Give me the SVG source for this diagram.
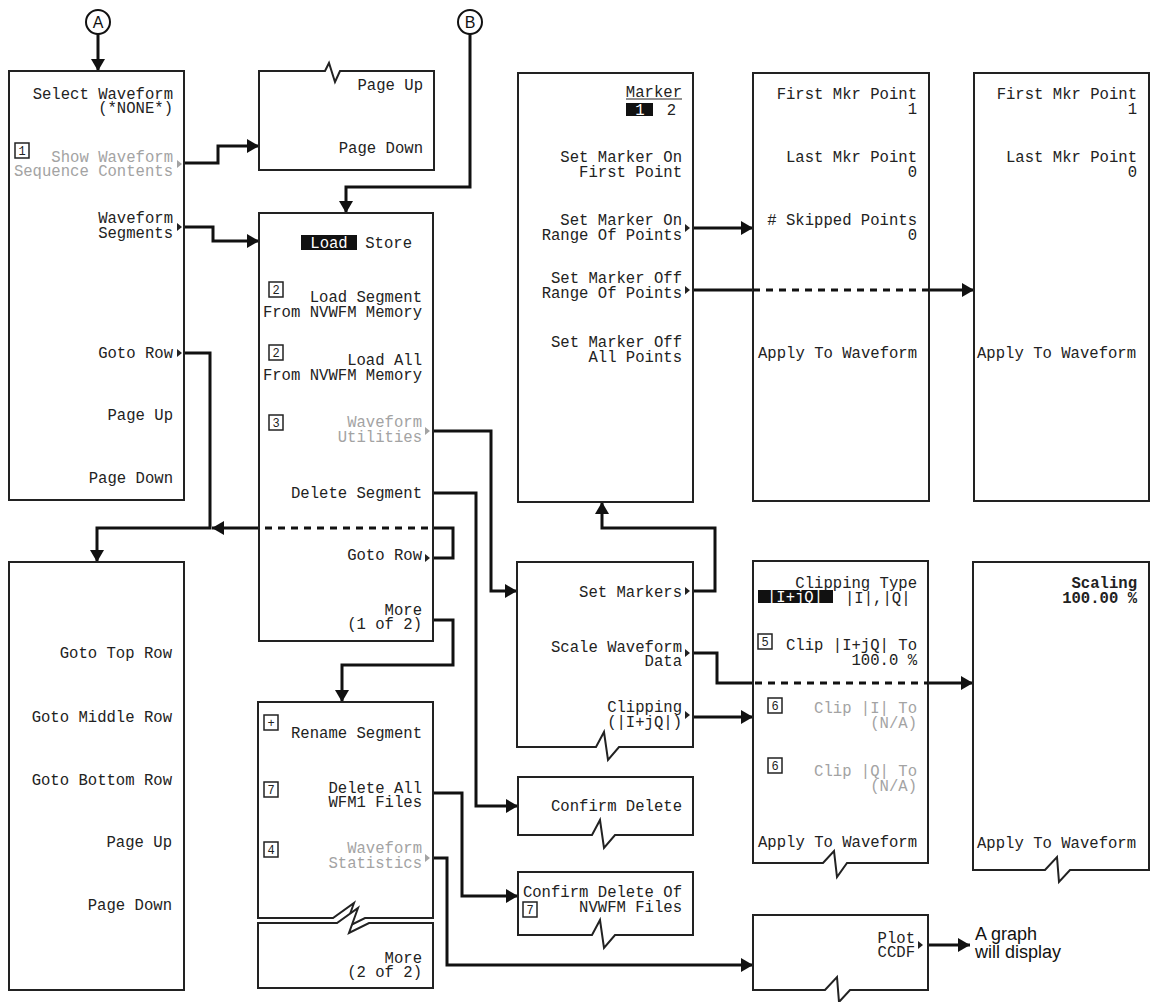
<svg xmlns="http://www.w3.org/2000/svg" width="1151" height="1002" viewBox="0 0 1151 1002">
<style>
.box{fill:#fff;stroke:#222;stroke-width:2}
.c{fill:none;stroke:#111;stroke-width:3}
.d{fill:none;stroke:#111;stroke-width:3;stroke-dasharray:7 6}
.t{font-family:"Liberation Mono","DejaVu Sans Mono",monospace;font-size:15.6px;fill:#222}
.r{text-anchor:end}
.m{text-anchor:middle}
.g{fill:#a3a3a3}
.w{fill:#fff}
.b{font-weight:bold}
.nb{fill:none;stroke:#222;stroke-width:1.5}
.nt{font-family:"Liberation Mono","DejaVu Sans Mono",monospace;font-size:12px;fill:#222;text-anchor:middle}
.tri{fill:#222}
.trig{fill:#a3a3a3}
.hl{fill:#111}
.circ{fill:#fff;stroke:#111;stroke-width:2}
.cl{font-family:"Liberation Sans",Arial,sans-serif;font-size:16px;fill:#111;text-anchor:middle}
.note{font-family:"Liberation Sans",Arial,sans-serif;font-size:18px;fill:#111}
</style>
<defs>
<marker id="ah" markerWidth="14" markerHeight="14" refX="12" refY="7" orient="auto" markerUnits="userSpaceOnUse"><path d="M0,0 L12,7 L0,14 z" fill="#111"/></marker>
</defs>

<g id="connectors">
<path class="c" d="M98,34 V71" marker-end="url(#ah)"/>
<path class="c" d="M470,34 V187 H346 V213" marker-end="url(#ah)"/>
<path class="c" d="M183,163 H218 V146 H259" marker-end="url(#ah)"/>
<path class="c" d="M183,227 H213 V241 H259" marker-end="url(#ah)"/>
<path class="c" d="M183,353 H210 V528 H97 V562" marker-end="url(#ah)"/>
<path class="c" d="M259,528 H212" marker-end="url(#ah)"/>
<path class="c" d="M431,558 H453 V528 H433"/>
<path class="c" d="M431,431 H491 V591 H517" marker-end="url(#ah)"/>
<path class="c" d="M433,493 H476 V806 H518" marker-end="url(#ah)"/>
<path class="c" d="M433,620 H453 V665 H342 V702" marker-end="url(#ah)"/>
<path class="c" d="M433,793 H462 V896 H518" marker-end="url(#ah)"/>
<path class="c" d="M431,858 H447 V965 H753" marker-end="url(#ah)"/>
<path class="c" d="M691,228 H753" marker-end="url(#ah)"/>
<path class="c" d="M691,290 H753"/>
<path class="c" d="M929,290 H974" marker-end="url(#ah)"/>
<path class="c" d="M691,591 H715 V528 H602 V502" marker-end="url(#ah)"/>
<path class="c" d="M691,653 H717 V683 H753"/>
<path class="c" d="M928,683 H973" marker-end="url(#ah)"/>
<path class="c" d="M691,717 H753" marker-end="url(#ah)"/>
<path class="c" d="M926,945 H970" marker-end="url(#ah)"/>
</g>

<g id="refA">
<circle class="circ" cx="98" cy="22" r="12"/>
<text class="cl" x="98" y="28">A</text>
</g>
<g id="refB">
<circle class="circ" cx="470" cy="22" r="12"/>
<text class="cl" x="470" y="28">B</text>
</g>

<g id="selectWaveform">
<rect class="box" x="9" y="71" width="175" height="429"/>
<text class="t r" x="173" y="99">Select Waveform</text>
<text class="t r" x="173" y="113">(*NONE*)</text>
<rect class="nb" x="15" y="143" width="14" height="15"/><text class="nt" x="22" y="155">1</text>
<text class="t r g" x="173" y="162">Show Waveform</text>
<text class="t r g" x="173" y="176">Sequence Contents</text>
<polygon class="trig" points="177,160 182,164 177,168"/>
<text class="t r" x="173" y="223">Waveform</text>
<text class="t r" x="173" y="238">Segments</text>
<polygon class="tri" points="177,223 182,227 177,231"/>
<text class="t r" x="173" y="358">Goto Row</text>
<polygon class="tri" points="177,349 182,353 177,357"/>
<text class="t r" x="173" y="420">Page Up</text>
<text class="t r" x="173" y="483">Page Down</text>
</g>

<g id="pageUpDown">
<path class="box" d="M259,71 H325 L329,63 L335,82 L340,71 H434 V170 H259 Z"/>
<text class="t r" x="423" y="90">Page Up</text>
<text class="t r" x="423" y="153">Page Down</text>
</g>

<g id="loadStore">
<rect class="box" x="259" y="213" width="174" height="428"/>
<rect class="hl" x="301" y="235" width="56" height="15"/>
<text class="t m w" x="329" y="248">Load</text>
<text class="t r" x="412" y="248">Store</text>
<rect class="nb" x="269" y="282" width="14" height="15"/><text class="nt" x="276" y="294">2</text>
<text class="t r" x="422" y="302">Load Segment</text>
<text class="t r" x="422" y="317">From NVWFM Memory</text>
<rect class="nb" x="269" y="345" width="14" height="15"/><text class="nt" x="276" y="357">2</text>
<text class="t r" x="422" y="365">Load All</text>
<text class="t r" x="422" y="380">From NVWFM Memory</text>
<rect class="nb" x="269" y="415" width="14" height="15"/><text class="nt" x="276" y="427">3</text>
<text class="t r g" x="422" y="427">Waveform</text>
<text class="t r g" x="422" y="442">Utilities</text>
<polygon class="trig" points="425,427 430,431 425,435"/>
<text class="t r" x="422" y="498">Delete Segment</text>
<path class="d" d="M265,528 H433"/>
<text class="t r" x="422" y="560">Goto Row</text>
<polygon class="tri" points="425,554 430,558 425,562"/>
<text class="t r" x="422" y="615">More</text>
<text class="t r" x="422" y="629">(1 of 2)</text>
</g>

<g id="renameSegment">
<path class="box" d="M258,702 H433 V918 H365 L345,928 L354,903 L333,918 H258 Z"/>
<rect class="nb" x="264" y="715" width="14" height="15"/><text class="nt" x="271" y="727">+</text>
<text class="t r" x="422" y="738">Rename Segment</text>
<rect class="nb" x="264" y="782" width="14" height="15"/><text class="nt" x="271" y="794">7</text>
<text class="t r" x="422" y="793">Delete All</text>
<text class="t r" x="422" y="807">WFM1 Files</text>
<rect class="nb" x="264" y="842" width="14" height="15"/><text class="nt" x="271" y="854">4</text>
<text class="t r g" x="422" y="853">Waveform</text>
<text class="t r g" x="422" y="868">Statistics</text>
<polygon class="trig" points="425,854 430,858 425,862"/>
</g>

<g id="more2of2">
<path class="box" d="M258,923 H337 L358,908 L349,933 L369,923 H433 V988 H258 Z"/>
<text class="t r" x="422" y="963">More</text>
<text class="t r" x="422" y="977">(2 of 2)</text>
</g>

<g id="gotoRow">
<rect class="box" x="9" y="562" width="175" height="428"/>
<text class="t r" x="172" y="658">Goto Top Row</text>
<text class="t r" x="172" y="722">Goto Middle Row</text>
<text class="t r" x="172" y="785">Goto Bottom Row</text>
<text class="t r" x="172" y="847">Page Up</text>
<text class="t r" x="172" y="910">Page Down</text>
</g>

<g id="marker">
<rect class="box" x="518" y="73" width="175" height="429"/>
<text class="t r" x="682" y="97">Marker</text>
<line x1="626" y1="99" x2="682" y2="99" stroke="#222" stroke-width="1"/>
<rect class="hl" x="626" y="103" width="27" height="13"/>
<text class="t m w" x="640" y="115">1</text>
<text class="t r" x="676" y="115">2</text>
<text class="t r" x="682" y="162">Set Marker On</text>
<text class="t r" x="682" y="177">First Point</text>
<text class="t r" x="682" y="225">Set Marker On</text>
<text class="t r" x="682" y="240">Range Of Points</text>
<polygon class="tri" points="685,224 690,228 685,232"/>
<text class="t r" x="682" y="283">Set Marker Off</text>
<text class="t r" x="682" y="298">Range Of Points</text>
<polygon class="tri" points="685,286 690,290 685,294"/>
<text class="t r" x="682" y="347">Set Marker Off</text>
<text class="t r" x="682" y="362">All Points</text>
</g>

<g id="mkrRange">
<rect class="box" x="753" y="73" width="176" height="428"/>
<text class="t r" x="917" y="99">First Mkr Point</text>
<text class="t r" x="917" y="114">1</text>
<text class="t r" x="917" y="162">Last Mkr Point</text>
<text class="t r" x="917" y="177">0</text>
<text class="t r" x="917" y="225"># Skipped Points</text>
<text class="t r" x="917" y="240">0</text>
<path class="d" d="M753,290 H929"/>
<text class="t" x="758" y="358">Apply To Waveform</text>
</g>

<g id="mkrOffRange">
<rect class="box" x="974" y="73" width="175" height="428"/>
<text class="t r" x="1137" y="99">First Mkr Point</text>
<text class="t r" x="1137" y="114">1</text>
<text class="t r" x="1137" y="162">Last Mkr Point</text>
<text class="t r" x="1137" y="177">0</text>
<text class="t" x="977" y="358">Apply To Waveform</text>
</g>

<g id="waveformUtilities">
<path class="box" d="M517,562 H693 V747 H619 L608,760 L604,732 L596,747 H517 Z"/>
<text class="t r" x="682" y="597">Set Markers</text>
<polygon class="tri" points="685,587 690,591 685,595"/>
<text class="t r" x="682" y="652">Scale Waveform</text>
<text class="t r" x="682" y="666">Data</text>
<polygon class="tri" points="685,649 690,653 685,657"/>
<text class="t r" x="682" y="712">Clipping</text>
<text class="t r" x="682" y="727">(|I+jQ|)</text>
<polygon class="tri" points="685,711 690,715 685,719"/>
</g>

<g id="clipping">
<path class="box" d="M753,561 H928 V863 H847 L837,877 L834,851 L823,863 H753 Z"/>
<text class="t r" x="917" y="588">Clipping Type</text>
<rect class="hl" x="758" y="590" width="75" height="13"/>
<text class="t m w" x="795" y="602">|I+jQ|</text>
<text class="t" x="845" y="603">|I|,|Q|</text>
<rect class="nb" x="758" y="634" width="14" height="15"/><text class="nt" x="765" y="646">5</text>
<text class="t r" x="917" y="650">Clip |I+jQ| To</text>
<text class="t r" x="917" y="665">100.0 %</text>
<path class="d" d="M755,683 H928"/>
<rect class="nb" x="768" y="698" width="14" height="15"/><text class="nt" x="775" y="710">6</text>
<text class="t r g" x="917" y="713">Clip |I| To</text>
<text class="t r g" x="917" y="728">(N/A)</text>
<rect class="nb" x="768" y="758" width="14" height="15"/><text class="nt" x="775" y="770">6</text>
<text class="t r g" x="917" y="776">Clip |Q| To</text>
<text class="t r g" x="917" y="791">(N/A)</text>
<text class="t" x="758" y="847">Apply To Waveform</text>
</g>

<g id="scaling">
<path class="box" d="M973,562 H1149 V870 H1070 L1059,882 L1057,857 L1045,870 H973 Z"/>
<text class="t r b" x="1137" y="588">Scaling</text>
<text class="t r b" x="1137" y="603">100.00 %</text>
<text class="t" x="977" y="848">Apply To Waveform</text>
</g>

<g id="confirmDelete">
<path class="box" d="M518,777 H693 V835 H615 L604,848 L600,820 L592,835 H518 Z"/>
<text class="t r" x="682" y="811">Confirm Delete</text>
</g>

<g id="confirmDeleteFiles">
<path class="box" d="M518,872 H693 V935 H615 L604,948 L600,920 L592,935 H518 Z"/>
<text class="t r" x="682" y="897">Confirm Delete Of</text>
<rect class="nb" x="523" y="902" width="14" height="15"/><text class="nt" x="530" y="914">7</text>
<text class="t r" x="682" y="912">NVWFM Files</text>
</g>

<g id="statistics">
<path class="box" d="M753,915 H928 V990 H850 L839,1002 L837,977 L825,990 H753 Z"/>
<text class="t r" x="915" y="943">Plot</text>
<text class="t r" x="915" y="957">CCDF</text>
<polygon class="tri" points="918,941 923,945 918,949"/>
</g>

<g id="graphNote">
<text class="note" x="975" y="940">A graph</text>
<text class="note" x="975" y="958">will display</text>
</g>
</svg>
